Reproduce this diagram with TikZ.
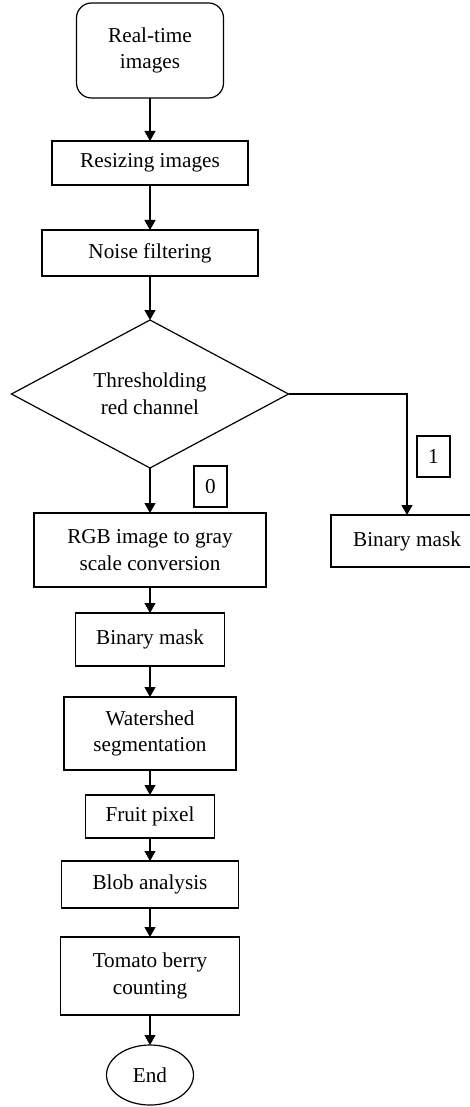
\documentclass[tikz,border=0pt]{standalone}
\usepackage{fontspec}
\setmainfont{Liberation Serif}
\usepackage{tikz}
\usetikzlibrary{arrows.meta,positioning,shapes.geometric}

\begin{document}
\begin{tikzpicture}[
    node distance=22pt,
    box/.style={draw, line width=0.6pt, align=center, inner sep=0pt, outer sep=0pt, font=\fontsize{10.6}{13.3}\selectfont},
    startbox/.style={box, rounded corners=7.5pt},
    decision/.style={box, diamond, aspect=1.87},
    endbox/.style={box, ellipse},
    tag/.style={draw, line width=0.6pt, inner sep=0pt, outer sep=0pt, minimum width=16.5pt, minimum height=20.5pt, font=\fontsize{10.6}{12}\selectfont},
    arr/.style={-{Triangle[length=5pt,width=5.5pt]}, line width=0.6pt},
]
\useasboundingbox (0,0) rectangle (235pt,-553.5pt);

% Main column
\node[startbox, minimum width=73.5pt, minimum height=47.5pt, anchor=north] (start) at (75pt,-1.5pt) {Real-time\\images};
\node[box, minimum width=98pt, minimum height=22pt, below=21.5pt of start] (resize) {Resizing images};
\node[box, minimum width=108pt, minimum height=23pt, below=22.5pt of resize] (noise) {Noise filtering};
\node[decision, minimum width=138.5pt, minimum height=74pt, below=22pt of noise] (thresh) {Thresholding\\red channel};
\node[box, minimum width=116pt, minimum height=37pt, below=22.5pt of thresh] (gray) {RGB image to gray\\scale conversion};
\node[box, minimum width=74.5pt, minimum height=26.5pt, below=13pt of gray] (mask) {Binary mask};
\node[box, minimum width=86pt, minimum height=36.5pt, below=15.5pt of mask] (water) {Watershed\\segmentation};
\node[box, minimum width=64.5pt, minimum height=21.5pt, below=12.5pt of water] (fruit) {Fruit pixel};
\node[box, minimum width=88.5pt, minimum height=23.5pt, below=11.5pt of fruit] (blob) {Blob analysis};
\node[box, minimum width=89.5pt, minimum height=39pt, below=14.5pt of blob] (count) {Tomato berry\\counting};
\node[endbox, minimum width=43.5pt, minimum height=30pt, below=15pt of count] (stop) {End};

% Side branch
\node[box, minimum width=76pt, minimum height=26pt, anchor=north west] (mask1) at ([xshift=32.5pt,yshift=-1pt]gray.north east) {Binary mask};
\node[tag, anchor=south west] (lab0) at ([xshift=22pt,yshift=3pt]gray.north) {0};
\node[tag, anchor=south west] (lab1) at ([xshift=5pt,yshift=19pt]mask1.north) {1};

% Arrows
\draw[arr] (start) -- (resize);
\draw[arr] (resize) -- (noise);
\draw[arr] (noise) -- (thresh);
\draw[arr] (thresh) -- (gray);
\draw[arr] (thresh.east) -| (mask1.north);
\draw[arr] (gray) -- (mask);
\draw[arr] (mask) -- (water);
\draw[arr] (water) -- (fruit);
\draw[arr] (fruit) -- (blob);
\draw[arr] (blob) -- (count);
\draw[arr] (count) -- (stop);
\end{tikzpicture}
\end{document}
